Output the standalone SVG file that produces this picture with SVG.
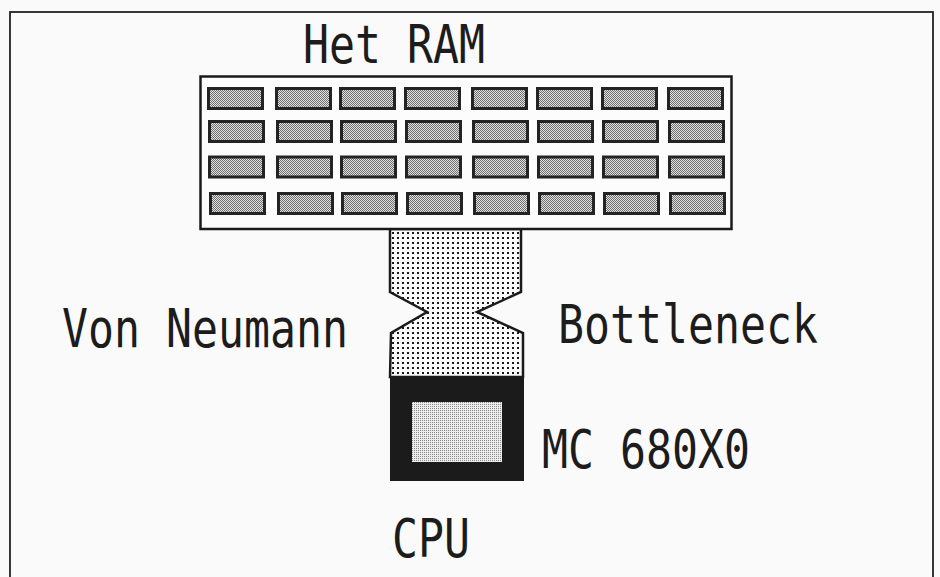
<svg xmlns="http://www.w3.org/2000/svg" width="940" height="577" viewBox="0 0 940 577">
  <style>
    .lbl { font-family: "DejaVu Sans Mono", "Liberation Mono", monospace; font-size: 53px; fill: #1c1c1c; }
    .cell { fill: url(#cellDither); stroke: #232323; stroke-width: 3; }
    .frame { fill: none; stroke: #222222; stroke-width: 1.8; }
  </style>
  <defs>
    <pattern id="cellDither" patternUnits="userSpaceOnUse" width="2" height="2">
      <rect width="2" height="2" fill="#e2e2e2"/>
      <rect x="0" y="0" width="1" height="1" fill="#6e6e6e"/>
      <rect x="1" y="1" width="1" height="1" fill="#6e6e6e"/>
    </pattern>
    <pattern id="cpuDither" patternUnits="userSpaceOnUse" width="2" height="2">
      <rect width="2" height="2" fill="#ececec"/>
      <rect x="0" y="0" width="1" height="1" fill="#8a8a8a"/>
    </pattern>
    <pattern id="busDots" patternUnits="userSpaceOnUse" x="0" y="0" width="5" height="5">
      <rect width="5" height="5" fill="#fbfbfb"/>
      <rect x="2" y="2" width="2" height="2" fill="#1a1a1a"/>
    </pattern>
  </defs>

  <rect x="0" y="0" width="940" height="577" fill="#fafafa"/>
  <rect class="frame" x="10" y="12" width="923" height="600"/>

  <g id="connectors">
    <path id="bus" d="M390 229 L521 229 L521 292 L477 312 L523 333 L523 377 L390 377 L391 333 L427 312 L390 292 Z"
          fill="url(#busDots)" stroke="#1a1a1a" stroke-width="2.5" stroke-linejoin="miter"/>
  </g>

  <g id="ram">
    <rect x="200.5" y="76.5" width="531" height="152.5" fill="#fcfcfc" stroke="#1a1a1a" stroke-width="2.5"/>
    <g id="ram-row1">
      <rect class="cell" x="208.5" y="88.5" width="54" height="20"/>
      <rect class="cell" x="276.5" y="88.5" width="54" height="20"/>
      <rect class="cell" x="340.5" y="88.5" width="54" height="20"/>
      <rect class="cell" x="405.5" y="88.5" width="54" height="20"/>
      <rect class="cell" x="472.5" y="88.5" width="54" height="20"/>
      <rect class="cell" x="537.5" y="88.5" width="54" height="20"/>
      <rect class="cell" x="602.5" y="88.5" width="54" height="20"/>
      <rect class="cell" x="668.5" y="88.5" width="54" height="20"/>
    </g>
    <g id="ram-row2">
      <rect class="cell" x="209.5" y="121.5" width="54" height="20"/>
      <rect class="cell" x="277.5" y="121.5" width="54" height="20"/>
      <rect class="cell" x="341.5" y="121.5" width="54" height="20"/>
      <rect class="cell" x="406.5" y="121.5" width="54" height="20"/>
      <rect class="cell" x="473.5" y="121.5" width="54" height="20"/>
      <rect class="cell" x="538.5" y="121.5" width="54" height="20"/>
      <rect class="cell" x="603.5" y="121.5" width="54" height="20"/>
      <rect class="cell" x="669.5" y="121.5" width="54" height="20"/>
    </g>
    <g id="ram-row3">
      <rect class="cell" x="209.5" y="157" width="54" height="20"/>
      <rect class="cell" x="277.5" y="157" width="54" height="20"/>
      <rect class="cell" x="341.5" y="157" width="54" height="20"/>
      <rect class="cell" x="406.5" y="157" width="54" height="20"/>
      <rect class="cell" x="473.5" y="157" width="54" height="20"/>
      <rect class="cell" x="538.5" y="157" width="54" height="20"/>
      <rect class="cell" x="603.5" y="157" width="54" height="20"/>
      <rect class="cell" x="669.5" y="157" width="54" height="20"/>
    </g>
    <g id="ram-row4">
      <rect class="cell" x="210.5" y="193.5" width="54" height="20"/>
      <rect class="cell" x="278.5" y="193.5" width="54" height="20"/>
      <rect class="cell" x="342.5" y="193.5" width="54" height="20"/>
      <rect class="cell" x="407.5" y="193.5" width="54" height="20"/>
      <rect class="cell" x="474.5" y="193.5" width="54" height="20"/>
      <rect class="cell" x="539.5" y="193.5" width="54" height="20"/>
      <rect class="cell" x="604.5" y="193.5" width="54" height="20"/>
      <rect class="cell" x="670.5" y="193.5" width="54" height="20"/>
    </g>
  </g>

  <g id="cpu">
    <rect x="390" y="376" width="134" height="105" fill="#1b1b1b"/>
    <rect x="412" y="402" width="90" height="60" fill="url(#cpuDither)"/>
  </g>

  <g id="labels">
    <text id="label-ram" class="lbl" x="303" y="63" textLength="182" lengthAdjust="spacingAndGlyphs">Het RAM</text>
    <text id="label-von" class="lbl" x="62" y="347" textLength="286" lengthAdjust="spacingAndGlyphs">Von Neumann</text>
    <text id="label-bottleneck" class="lbl" x="558" y="343" textLength="260" lengthAdjust="spacingAndGlyphs">Bottleneck</text>
    <text id="label-mc" class="lbl" x="542" y="468" textLength="208" lengthAdjust="spacingAndGlyphs">MC 680X0</text>
    <text id="label-cpu" class="lbl" x="392" y="557" textLength="78" lengthAdjust="spacingAndGlyphs">CPU</text>
  </g>
</svg>
